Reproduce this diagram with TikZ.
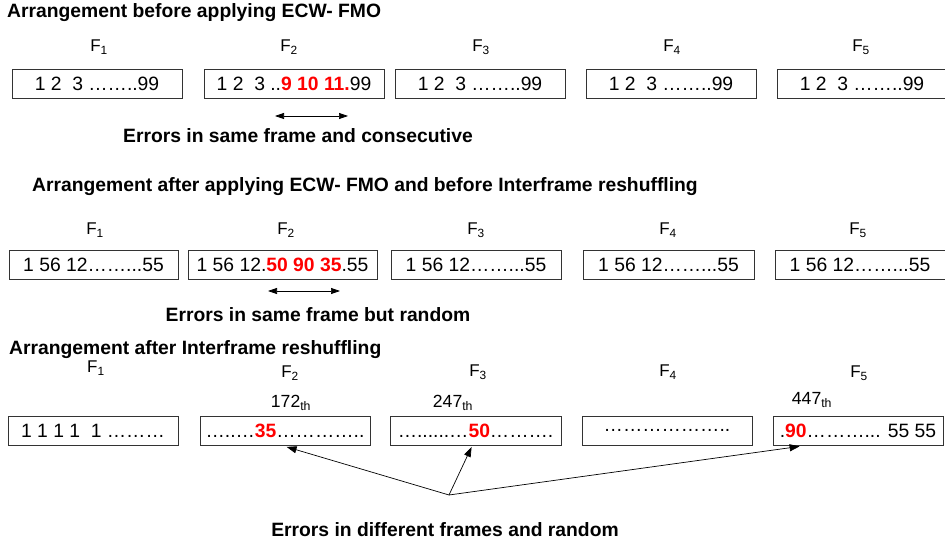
\documentclass[tikz,border=0pt]{standalone}
\usepackage{fontspec}
\setmainfont{Liberation Sans}
\usetikzlibrary{arrows.meta,calc}
\definecolor{errred}{RGB}{255,0,0}
\tikzset{
  x=1pt,y=-1pt,
  heading/.style={font=\fontsize{19.3}{21}\selectfont\bfseries, anchor=west, inner sep=0pt},
  note/.style={font=\fontsize{19.3}{21}\selectfont\bfseries, inner sep=0pt},
  framelabel/.style={font=\fontsize{17}{19}\selectfont, inner sep=0pt},
  poslabel/.style={font=\fontsize{17.6}{19}\selectfont, inner sep=0pt},
  framebox/.style={draw=black!80, line width=0.8pt, minimum height=29pt, inner sep=0pt,
    font=\fontsize{19.3}{21}\selectfont},
  pointer/.style={-{Triangle[length=10pt,width=7pt]}, line width=0.7pt},
  span/.style={{Triangle[length=9pt,width=6pt]}-{Triangle[length=9pt,width=6pt]}, line width=0.7pt}
}
\newcommand{\err}[1]{\textcolor{errred}{\bfseries #1}}
\newcommand{\F}[1]{F\textsubscript{#1}}
\begin{document}
\begin{tikzpicture}
\path[use as bounding box] (0,0) rectangle (945,545);
\clip (0,0) rectangle (945,545);

% ---- Row 1: before ECW-FMO
\node[heading] (h1) at (7,13) {Arrangement before applying ECW- FMO};
\node[framelabel] (f11) at (99,47) {\F1};
\node[framelabel] (f12) at (289,47) {\F2};
\node[framelabel] (f13) at (481,47) {\F3};
\node[framelabel] (f14) at (672,47) {\F4};
\node[framelabel] (f15) at (861,47) {\F5};
\node[framebox, minimum width=170pt] (b11) at (97,84) {1 2\ \ 3 ……..99};
\node[framebox, minimum width=180pt] (b12) at (294,84) {1 2\ \ 3 ..\err{9 10 11.}99};
\node[framebox, minimum width=170pt] (b13) at (480,84) {1 2\ \ 3 ……..99};
\node[framebox, minimum width=170pt] (b14) at (671,84) {1 2\ \ 3 ……..99};
\node[framebox, minimum width=170pt] (b15) at (862,84) {1 2\ \ 3 ……..99};
\coordinate (s1a) at (275,116);
\coordinate (s1b) at (348,116);
\draw[span] (s1a) -- (s1b);
\node[note] (n1) at (298,136) {Errors in same frame and consecutive};

% ---- Row 2: after ECW-FMO, before interframe reshuffling
\node[note] (h2) at (365,187) {Arrangement after applying ECW- FMO and before Interframe reshuffling};
\node[framelabel] (f21) at (95,230) {\F1};
\node[framelabel] (f22) at (286,230) {\F2};
\node[framelabel] (f23) at (476,230) {\F3};
\node[framelabel] (f24) at (668,230) {\F4};
\node[framelabel] (f25) at (858,230) {\F5};
\node[framebox, minimum width=169pt] (b21) at (93.5,264.5) {1 56 12……...55};
\node[framebox, minimum width=189pt] (b22) at (282.5,264.5) {1 56 12.\err{50 90 35}.55};
\node[framebox, minimum width=170pt] (b23) at (476,264.5) {1 56 12……...55};
\node[framebox, minimum width=171pt] (b24) at (668.5,264.5) {1 56 12……...55};
\node[framebox, minimum width=170pt] (b25) at (860,264.5) {1 56 12……...55};
\coordinate (s2a) at (268,291);
\coordinate (s2b) at (340,291);
\draw[span] (s2a) -- (s2b);
\node[note] (n2) at (318,315) {Errors in same frame but random};

% ---- Row 3: after interframe reshuffling
\node[heading] (h3) at (9,350) {Arrangement after Interframe reshuffling};
\node[framelabel] (f31) at (96,368) {\F1};
\node[framelabel] (f32) at (290,373) {\F2};
\node[framelabel] (f33) at (478,372) {\F3};
\node[framelabel] (f34) at (668,372) {\F4};
\node[framelabel] (f35) at (859,373) {\F5};
\node[poslabel] (p2) at (291,403) {172\textsubscript{th}};
\node[poslabel] (p3) at (453,403) {247\textsubscript{th}};
\node[poslabel] (p5) at (812,400) {447\textsubscript{th}};
\node[framebox, minimum width=170pt] (b31) at (93,430.5) {1 1 1 1\ \ 1 ………};
\node[framebox, minimum width=170pt] (b32) at (285,430.5) {…..…\err{35}…………..};
\node[framebox, minimum width=171pt] (b33) at (475.5,430.5) {…......…\err{50}……….};
\node[framebox, minimum width=170pt] (b34) at (667,430.5) {………………..};
\node[framebox, minimum width=170pt] (b35) at (858,430.5) {.\err{90}………... 55 55};
\coordinate (fan) at (449,495);
\draw[pointer] (fan) -- ($(b32.south west)+(87,1.5)$);
\draw[pointer] (fan) -- ($(b33.south west)+(82,1.5)$);
\draw[pointer] (fan) -- ($(b35.south west)+(27,1)$);
\node[note] (n3) at (445,530) {Errors in different frames and random};
\end{tikzpicture}
\end{document}
